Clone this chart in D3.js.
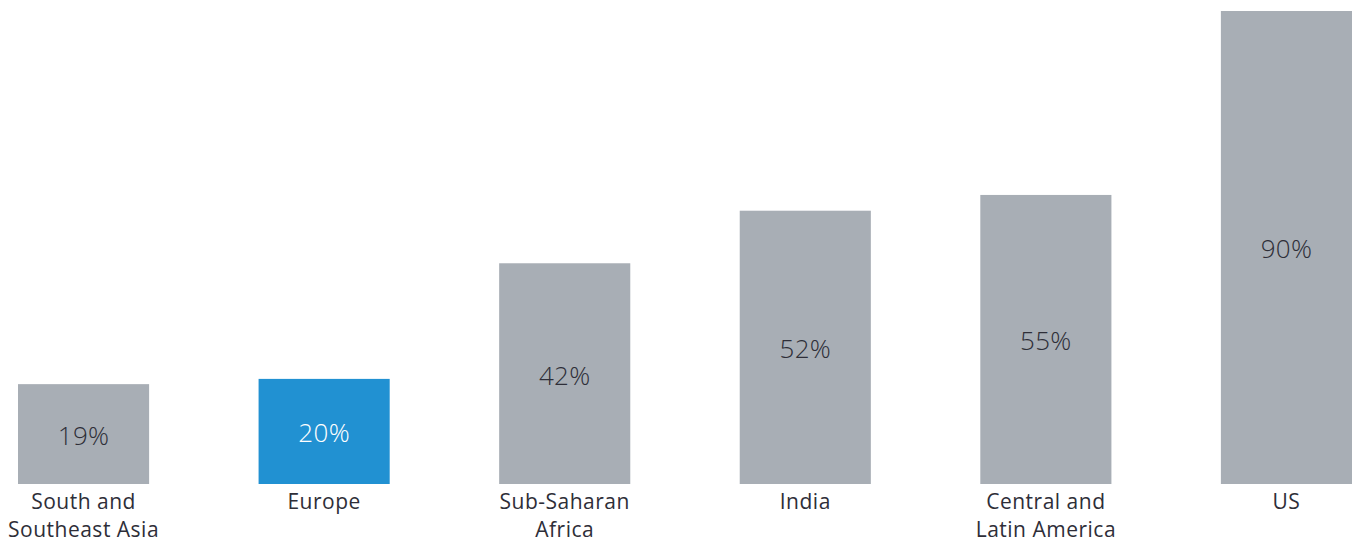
<!DOCTYPE html>
<html>
<head>
<meta charset="utf-8">
<script src="https://cdn.jsdelivr.net/npm/d3@7"></script>
<style>
  body { margin: 0; background: #fff; }
  svg { display: block; font-family: "Open Sans", sans-serif; }
  .value { font-size: 26px; font-weight: 300; letter-spacing: 0.3px; }
  .label { font-size: 21px; fill: #2e2e38; letter-spacing: 0.5px; }
</style>
</head>
<body>
<svg width="1355" height="542"></svg>
<script>
  // chart data
  const regions = ['South and Southeast Asia', 'Europe', 'Sub-Saharan Africa', 'India', 'Central and Latin America', 'US'];
  const labelLines = [['South and', 'Southeast Asia'], ['Europe'], ['Sub-Saharan', 'Africa'], ['India'], ['Central and', 'Latin America'], ['US']];
  const shares = [19, 20, 42, 52, 55, 90];
  const highlight = 'Europe';

  const svg = d3.select('svg');
  const baseline = 484;

  const x = d3.scaleBand()
    .domain(regions)
    .range([18, 1352])
    .paddingInner(0.455)
    .paddingOuter(0);

  const y = d3.scaleLinear()
    .domain([0, 90])
    .range([baseline, 11]);

  const data = regions.map((r, i) => ({region: r, value: shares[i], lines: labelLines[i]}));

  const bars = svg.selectAll('.bar')
    .data(data)
    .enter()
    .append('g')
      .attr('class', 'bar');

  bars.append('rect')
    .attr('x', d => x(d.region))
    .attr('y', d => y(d.value))
    .attr('width', x.bandwidth())
    .attr('height', d => baseline - y(d.value))
    .attr('fill', d => d.region === highlight ? '#2191d2' : '#a8aeb5');

  // value inside bar, centred
  bars.append('text')
    .attr('class', 'value')
    .attr('x', d => x(d.region) + x.bandwidth() / 2)
    .attr('y', d => (y(d.value) + baseline) / 2 + 4)
    .attr('text-anchor', 'middle')
    .attr('dominant-baseline', 'middle')
    .attr('fill', d => d.region === highlight ? '#ffffff' : '#2e2e38')
    .text(d => d.value + '%');

  // category labels under the bars
  const labels = bars.append('text')
    .attr('class', 'label')
    .attr('text-anchor', 'middle')
    .attr('x', d => x(d.region) + x.bandwidth() / 2)
    .attr('y', 509);

  labels.selectAll('tspan')
    .data(d => d.lines.map(l => ({l, cx: x(d.region) + x.bandwidth() / 2})))
    .enter()
    .append('tspan')
      .attr('x', d => d.cx)
      .attr('dy', (d, i) => i === 0 ? 0 : 28)
      .text(d => d.l);
</script>
</body>
</html>
